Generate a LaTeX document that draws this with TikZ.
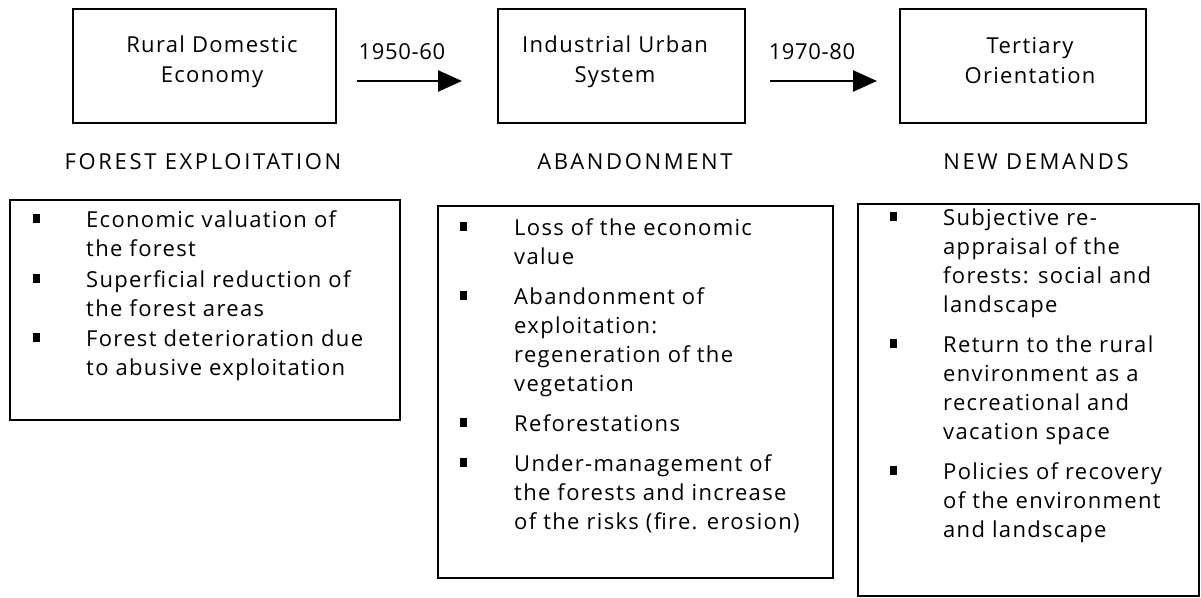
\documentclass[tikz,border=0pt]{standalone}
\usepackage{fontspec}
\setmainfont{Open Sans}[LetterSpace=6]
\usetikzlibrary{calc,arrows.meta}
\newcommand{\sqbullet}{\raisebox{4pt}{\rule{7pt}{9pt}}}

\begin{document}
\begin{tikzpicture}[x=1pt,y=-1pt,
	stagebox/.style={draw, line width=2pt, minimum height=114pt, inner sep=0pt},
	stagetext/.style={align=center, font=\fontsize{22}{30}\selectfont},
	period/.style={font=\fontsize{22}{23}\selectfont\addfontfeature{LetterSpace=3}},
	phase/.style={font=\fontsize{22}{23}\selectfont\addfontfeature{LetterSpace=12}},
	listbox/.style={draw, line width=2pt, inner sep=0pt},
	listtext/.style={anchor=base west, inner sep=0pt, font=\fontsize{22}{29}\selectfont},
	flow/.style={line width=2.5pt, -{Triangle[length=24pt,width=21pt]}}]
			%%%%% START %%%%%
			\useasboundingbox (0,0) rectangle (1201,597);
			
			\node[stagebox, minimum width=263pt] (rural) at (204.5,66) {};
			\node[stagetext] (ruralT) at (212,62) {Rural Domestic\\Economy};
			\node[stagebox, minimum width=247pt] (urban) at (621.5,66) {};
			\node[stagetext] (urbanT) at (615,62) {Industrial Urban\\System};
			\node[stagebox, minimum width=246pt] (tertiary) at (1023,66) {};
			\node[stagetext] (tertiaryT) at (1030,61) {Tertiary\\Orientation};
			
			\draw[flow] ($(rural.east)+(20,15)$) -- ($(urban.west)+(-35,15)$);
			\draw[flow] ($(urban.east)+(24,15)$) -- ($(tertiary.west)+(-22,15)$);
			\node[period] (p1) at (402,52) {1950-60};
			\node[period] (p2) at (812,52) {1970-80};
			
			\node[phase] (exploit) at (203,162) {FOREST EXPLOITATION};
			\node[phase] (abandon) at (635,162) {ABANDONMENT};
			\node[phase] (demands) at (1036,162) {NEW DEMANDS};
			
			%%%%% LISTS %%%%%
			\node[listbox, minimum width=390pt, minimum height=220pt] (exploitBox) at (205,310) {};
			\node[listtext] (exploitList) at (33,227) {\begin{tabular}[t]{@{}p{53pt}@{}l@{}}
				\sqbullet & Economic valuation of\\
				& the forest\\[2pt]
				\sqbullet & Superficial reduction of\\
				& the forest areas\\[1pt]
				\sqbullet & Forest deterioration due\\
				& to abusive exploitation
			\end{tabular}};
			
			\node[listbox, minimum width=395pt, minimum height=372pt] (abandonBox) at (635.5,392) {};
			\node[listtext] (abandonList) at (460,235) {\begin{tabular}[t]{@{}p{54pt}@{}l@{}}
				\sqbullet & Loss of the economic\\
				& value\\[11pt]
				\sqbullet & Abandonment of\\
				& exploitation:\\
				& regeneration of the\\
				& vegetation\\[11pt]
				\sqbullet & Reforestations\\[11pt]
				\sqbullet & Under-management of\\
				& the forests and increase\\
				& of the risks (fire. erosion)
			\end{tabular}};
			
			\node[listbox, minimum width=341pt, minimum height=392pt] (demandsBox) at (1028.5,400) {};
			\node[listtext] (demandsList) at (890,225) {\begin{tabular}[t]{@{}p{53pt}@{}l@{}}
				\sqbullet & Subjective re-\\
				& appraisal of the\\
				& forests: social and\\
				& landscape\\[11pt]
				\sqbullet & Return to the rural\\
				& environment as a\\
				& recreational and\\
				& vacation space\\[11pt]
				\sqbullet & Policies of recovery\\
				& of the environment\\
				& and landscape
			\end{tabular}};
			%%%%% END %%%%%
\end{tikzpicture}
\end{document}
